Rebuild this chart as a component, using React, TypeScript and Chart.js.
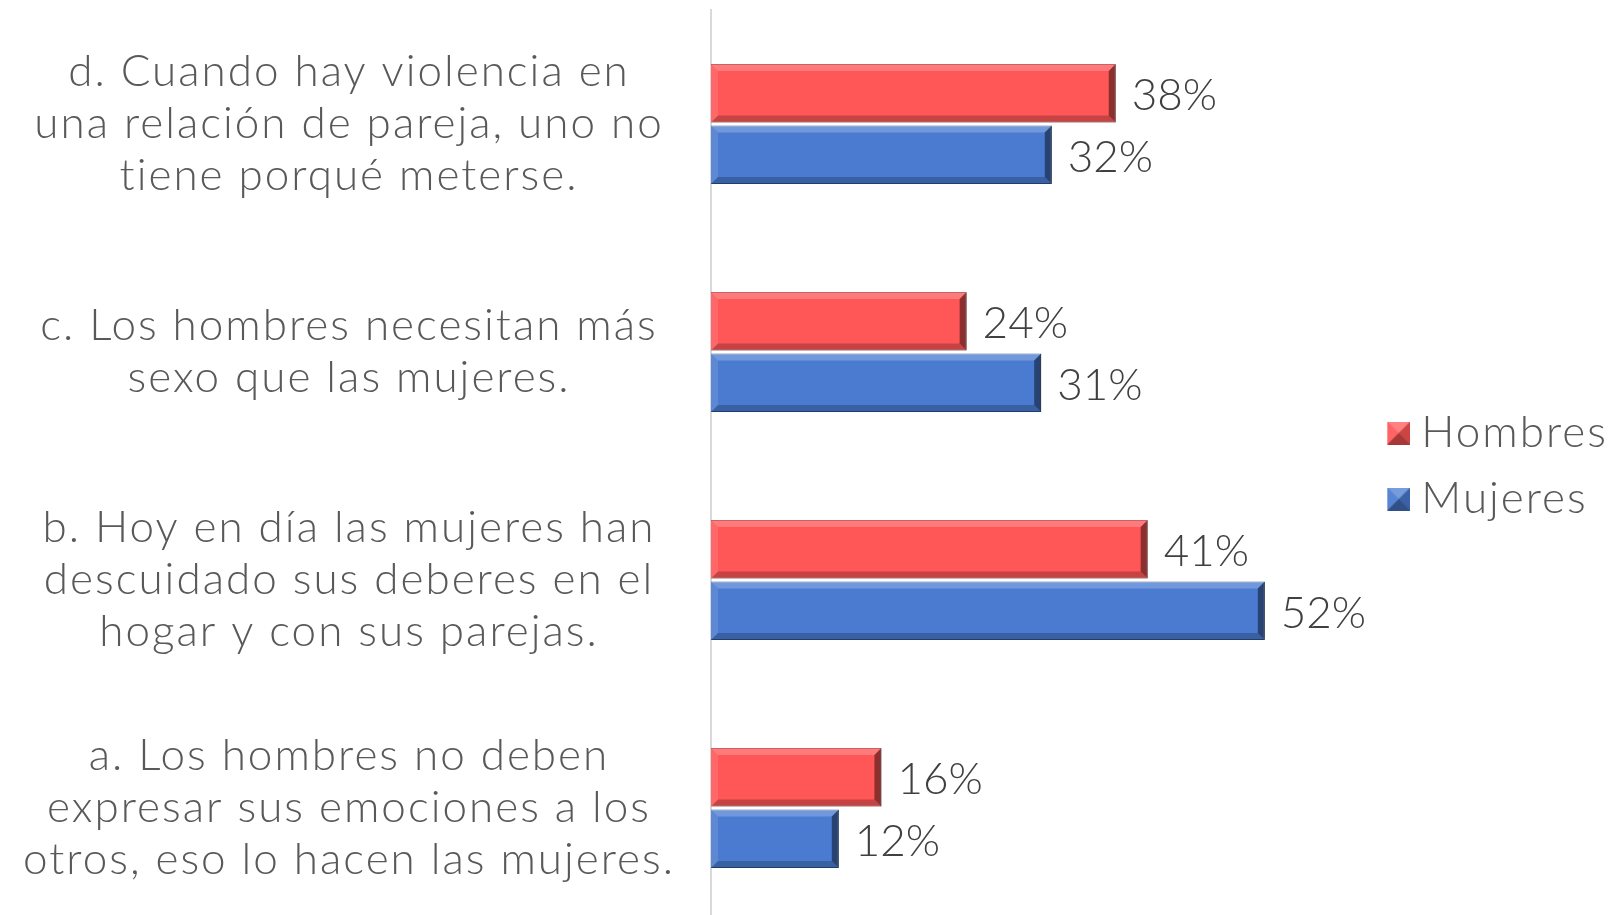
import React, { useEffect, useRef } from "react";
import { Chart, registerables } from "chart.js";

Chart.register(...registerables);

const categories: string[][] = [
  ["d. Cuando hay violencia en", "una relación de pareja, uno no", "tiene porqué meterse."],
  ["c. Los hombres necesitan más", "sexo que las mujeres."],
  ["b. Hoy en día las mujeres han", "descuidado sus deberes en el", "hogar y con sus parejas."],
  ["a. Los hombres no deben", "expresar sus emociones a los", "otros, eso lo hacen las mujeres."],
];
const seriesNames = ["Hombres", "Mujeres"];
const hombres = [38, 24, 41, 16];
const mujeres = [32, 31, 52, 12];
const seriesColors = ["#FF5757", "#4A7BD0"];
const seriesBorders = ["#B8393B", "#2E4F8A"];
const xMax = 60.4;

const FONT = "Lato";
const WEIGHT = 300;

function poly(ctx: CanvasRenderingContext2D, pts: number[][], fill: string) {
  ctx.beginPath();
  ctx.moveTo(pts[0][0], pts[0][1]);
  for (let i = 1; i < pts.length; i++) ctx.lineTo(pts[i][0], pts[i][1]);
  ctx.closePath();
  ctx.fillStyle = fill;
  ctx.fill();
}

function makeLegendIcon(color: string): HTMLCanvasElement {
  const s = 23;
  const off = 22;
  const c = document.createElement("canvas");
  c.width = s + off;
  c.height = s;
  const g = c.getContext("2d")!;
  g.translate(off, 0);
  g.fillStyle = color;
  g.fillRect(0, 0, s, s);
  const m = s / 2;
  poly(g, [[0, 0], [s, 0], [m, m]], "rgba(255,255,255,0.25)");
  poly(g, [[0, s], [s, s], [m, m]], "rgba(0,0,0,0.35)");
  poly(g, [[s, 0], [s, s], [m, m]], "rgba(0,0,0,0.2)");
  poly(g, [[0, 0], [0, s], [m, m]], "rgba(255,255,255,0.08)");
  return c;
}

const spacingPlugin = {
  id: "letterSpacing",
  beforeUpdate(chart: any) {
    try {
      (chart.ctx as any).letterSpacing = "2px";
    } catch (e) {}
  },
  beforeDraw(chart: any) {
    try {
      (chart.ctx as any).letterSpacing = "2px";
    } catch (e) {}
  },
};

const bevelPlugin = {
  id: "bevelAndLabels",
  afterDatasetsDraw(chart: any) {
    const ctx: CanvasRenderingContext2D = chart.ctx;
    chart.data.datasets.forEach((ds: any, di: number) => {
      const meta = chart.getDatasetMeta(di);
      meta.data.forEach((bar: any, i: number) => {
        const { x, y, base, height } = bar.getProps(["x", "y", "base", "height"], true);
        const x0 = Math.min(base, x);
        const x1 = Math.max(base, x);
        const y0 = y - height / 2;
        const y1 = y + height / 2;
        const b = 7;
        ctx.save();
        poly(ctx, [[x0, y0], [x1, y0], [x1 - b, y0 + b], [x0 + b, y0 + b]], "rgba(255,255,255,0.22)");
        poly(ctx, [[x0, y1], [x1, y1], [x1 - b, y1 - b], [x0 + b, y1 - b]], "rgba(0,0,0,0.22)");
        poly(ctx, [[x1, y0], [x1, y1], [x1 - b, y1 - b], [x1 - b, y0 + b]], "rgba(0,0,0,0.45)");
        poly(ctx, [[x0, y0], [x0, y1], [x0 + b, y1 - b], [x0 + b, y0 + b]], "rgba(255,255,255,0.1)");
        try {
          (ctx as any).letterSpacing = "0px";
        } catch (e) {}
        ctx.fillStyle = "#404040";
        ctx.font = `${WEIGHT} 44px ${FONT}`;
        ctx.textAlign = "left";
        ctx.textBaseline = "middle";
        ctx.fillText(`${ds.data[i]}%`, x1 + 16, y + 3);
        ctx.restore();
      });
    });
  },
};

export default function App() {
  const ref = useRef<HTMLCanvasElement | null>(null);

  useEffect(() => {
    let chart: Chart | null = null;
    let cancelled = false;
    const build = () => {
      if (cancelled || !ref.current) return;
      const icons = seriesColors.map((c) => makeLegendIcon(c));
      chart = new Chart(ref.current, {
        type: "bar",
        data: {
          labels: categories,
          datasets: [
            {
              label: seriesNames[0],
              data: hombres,
              backgroundColor: seriesColors[0],
              borderColor: seriesBorders[0],
              borderWidth: 1,
              pointStyle: icons[0] as any,
              categoryPercentage: 0.54,
              barPercentage: 0.95,
            },
            {
              label: seriesNames[1],
              data: mujeres,
              backgroundColor: seriesColors[1],
              borderColor: seriesBorders[1],
              borderWidth: 1,
              pointStyle: icons[1] as any,
              categoryPercentage: 0.54,
              barPercentage: 0.95,
            },
          ],
        },
        options: {
          indexAxis: "y",
          animation: false,
          responsive: true,
          maintainAspectRatio: false,
          layout: { padding: { top: 10, left: 0, right: 0, bottom: 0 } },
          scales: {
            x: { display: false, min: 0, max: xMax },
            y: {
              grid: { display: false, drawTicks: false },
              border: { display: true, color: "#D9D9D9", width: 2 },
              afterFit: (scale: any) => {
                scale.width = 711;
                scale.paddingTop = 0;
                scale.paddingBottom = 0;
              },
              ticks: {
                crossAlign: "center",
                padding: 36,
                color: "#595959",
                font: { family: FONT, size: 44, weight: WEIGHT as any, lineHeight: 1.18 },
              },
            },
          },
          plugins: {
            tooltip: { enabled: false },
            legend: {
              position: "right",
              labels: {
                usePointStyle: true,
                boxWidth: 23,
                boxHeight: 23,
                padding: 22,
                color: "#595959",
                font: { family: FONT, size: 44, weight: WEIGHT as any },
              },
            },
          },
        },
        plugins: [spacingPlugin, bevelPlugin],
      });
    };
    const fontsAny: any = (document as any).fonts;
    if (fontsAny && fontsAny.load) {
      Promise.all([fontsAny.load(`${WEIGHT} 44px ${FONT}`), fontsAny.load(`44px ${FONT}`)]).then(build, build);
    } else {
      build();
    }
    return () => {
      cancelled = true;
      if (chart) chart.destroy();
    };
  }, []);

  return (
    <div
      style={{
        position: "fixed",
        left: 0,
        top: 0,
        width: 1618,
        height: 915,
        overflow: "hidden",
        background: "#ffffff",
      }}
    >
      <div style={{ position: "relative", width: 1618, height: 922 }}>
        <canvas ref={ref} />
      </div>
    </div>
  );
}
